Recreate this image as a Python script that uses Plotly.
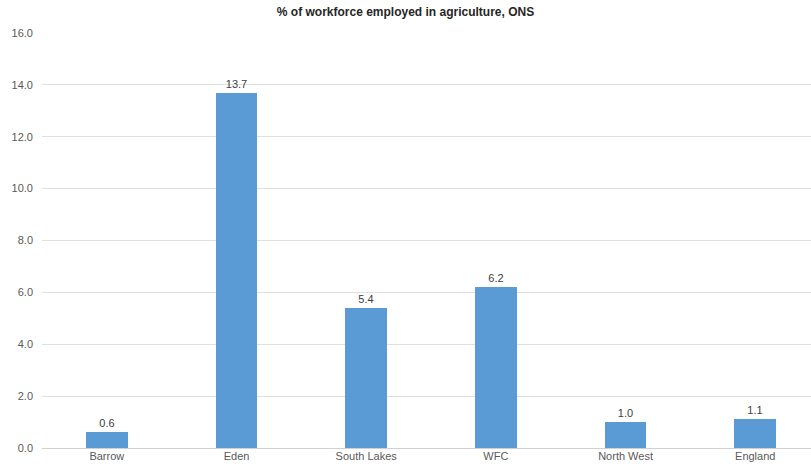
import plotly.graph_objects as go

categories = ["Barrow", "Eden", "South Lakes", "WFC", "North West", "England"]
values = [0.6, 13.7, 5.4, 6.2, 1.0, 1.1]
y_ticks = [0, 2, 4, 6, 8, 10, 12, 14, 16]

fig = go.Figure(go.Bar(
    x=list(range(len(categories))),
    y=values,
    width=0.32,
    marker=dict(color="#5b9bd5", line=dict(width=0)),
    text=[f"{v:.1f}" for v in values],
    textposition="outside",
    textfont=dict(family="Liberation Sans, Arial", size=11, color="#404040"),
    cliponaxis=False,
))

fig.update_layout(
    width=811, height=468,
    margin=dict(l=42, r=0, t=33, b=20),
    paper_bgcolor="white", plot_bgcolor="white",
    title=dict(text="<b>% of workforce employed in agriculture, ONS</b>",
               x=0.5, xanchor="center", y=0.975, yanchor="middle",
               font=dict(family="Liberation Sans, Arial", size=12, color="#262626")),
    showlegend=False,
    bargap=0,
)
fig.update_xaxes(
    range=[-0.5, 5.43],
    tickmode="array", tickvals=list(range(len(categories))), ticktext=categories,
    tickfont=dict(family="Liberation Sans, Arial", size=11, color="#595959"),
    showgrid=False, showline=False, zeroline=False, ticks="",
)
fig.update_yaxes(
    range=[0, 16],
    tickmode="array", tickvals=y_ticks, ticktext=[f"{t:.1f}" for t in y_ticks],
    tickfont=dict(family="Liberation Sans, Arial", size=11, color="#595959"),
    showgrid=True, gridcolor="#e0e0e0", gridwidth=1,
    zeroline=True, zerolinecolor="#d0d0d0", zerolinewidth=1,
    showline=False, ticks="", ticklabelstandoff=8,
)

fig.write_html("out.html")
